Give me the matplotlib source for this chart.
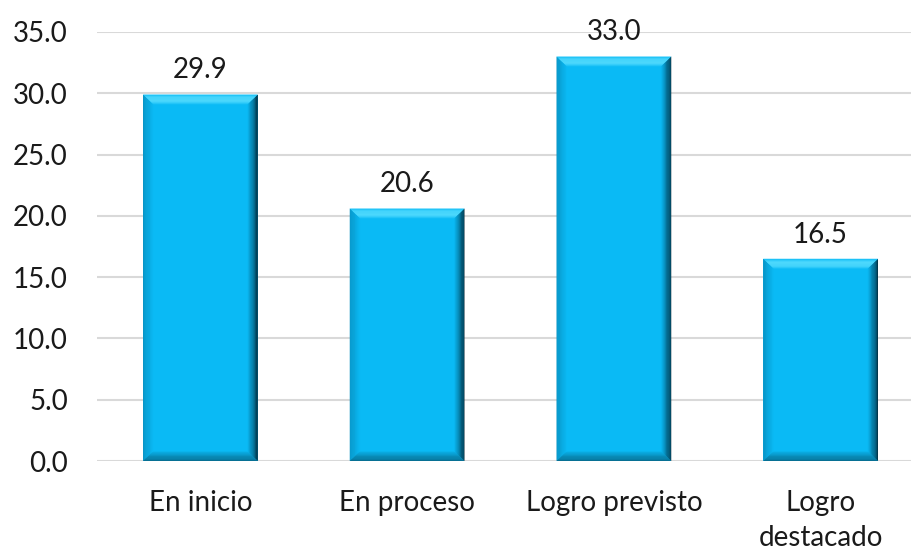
import matplotlib
matplotlib.use("Agg")
import matplotlib.pyplot as plt
import numpy as np
from matplotlib.colors import to_rgb
from matplotlib.patches import Polygon

categories = ["En inicio", "En proceso", "Logro previsto", "Logro\ndestacado"]
values = [29.9, 20.6, 33.0, 16.5]
yticks = [0, 5, 10, 15, 20, 25, 30, 35]

plt.rcParams["font.family"] = ["Lato", "DejaVu Sans"]

MAIN = "#0abaf5"
TOP = "#5ee0ff"
RIGHT = "#01202e"
BOTTOM = "#07607f"
LEFT = "#0890c0"


def mix(c1, c2, t):
    a, b = np.array(to_rgb(c1)), np.array(to_rgb(c2))
    return tuple(a + (b - a) * t)


def bevel(ax, x0, x1, y1, bx, by, n=12):
    # draw four gradient trapezoids around the bar face
    for k in range(n):
        t0, t1 = k / n, (k + 1) / n
        s0, s1 = 1 - t0, 1 - t1
        tc = (t0 + t1) / 2
        # right
        pts = [(x1 - bx * s0, by * s0), (x1 - bx * s0, y1 - by * s0),
               (x1 - bx * s1, y1 - by * s1), (x1 - bx * s1, by * s1)]
        ax.add_patch(Polygon(pts, closed=True, color=mix(MAIN, RIGHT, tc ** 1.1), lw=0, zorder=3))
        # left
        pts = [(x0 + bx * s0, by * s0), (x0 + bx * s0, y1 - by * s0),
               (x0 + bx * s1, y1 - by * s1), (x0 + bx * s1, by * s1)]
        ax.add_patch(Polygon(pts, closed=True, color=mix(MAIN, LEFT, tc), lw=0, zorder=3))
        # top
        pts = [(x0 + bx * s0, y1 - by * s0), (x1 - bx * s0, y1 - by * s0),
               (x1 - bx * s1, y1 - by * s1), (x0 + bx * s1, y1 - by * s1)]
        ax.add_patch(Polygon(pts, closed=True, color=mix(MAIN, TOP, np.sin(np.pi * tc) ** 0.7), lw=0, zorder=3))
        # bottom
        pts = [(x0 + bx * s0, by * s0), (x1 - bx * s0, by * s0),
               (x1 - bx * s1, by * s1), (x0 + bx * s1, by * s1)]
        ax.add_patch(Polygon(pts, closed=True, color=mix(MAIN, BOTTOM, tc ** 0.8), lw=0, zorder=3))


fig = plt.figure(figsize=(9.12, 5.51), dpi=100)
ax = fig.add_axes([97 / 912, 90 / 551, 827 / 912, 429 / 551])

x = np.arange(len(categories))
width = 0.555
bars = ax.bar(x, values, width=width, color=MAIN, zorder=2)

bx, by = 0.05, 0.8
for rect in bars:
    x0 = rect.get_x()
    bevel(ax, x0, x0 + rect.get_width(), rect.get_height(), bx, by)

for rect, v in zip(bars, values):
    ax.text(rect.get_x() + rect.get_width() / 2, v + 0.9, f"{v:.1f}",
            ha="center", va="bottom", fontsize=20, color="#1a1a1a", zorder=5)

ax.set_xlim(-0.5, 3.5)
ax.set_ylim(0, 35)
ax.set_yticks(yticks)
ax.set_yticklabels([f"{t:.1f}" for t in yticks])
ax.set_xticks(x)
ax.set_xticklabels(categories, linespacing=1.4)
ax.tick_params(axis="both", length=0, labelsize=20, colors="#1a1a1a")
ax.tick_params(axis="y", pad=21)
ax.tick_params(axis="x", pad=21)
ax.grid(axis="y", color="#d9d9d9", lw=1.5, zorder=0)
for s in ax.spines.values():
    s.set_visible(False)
ax.set_axisbelow(True)

fig.savefig("out.png", dpi=100)
